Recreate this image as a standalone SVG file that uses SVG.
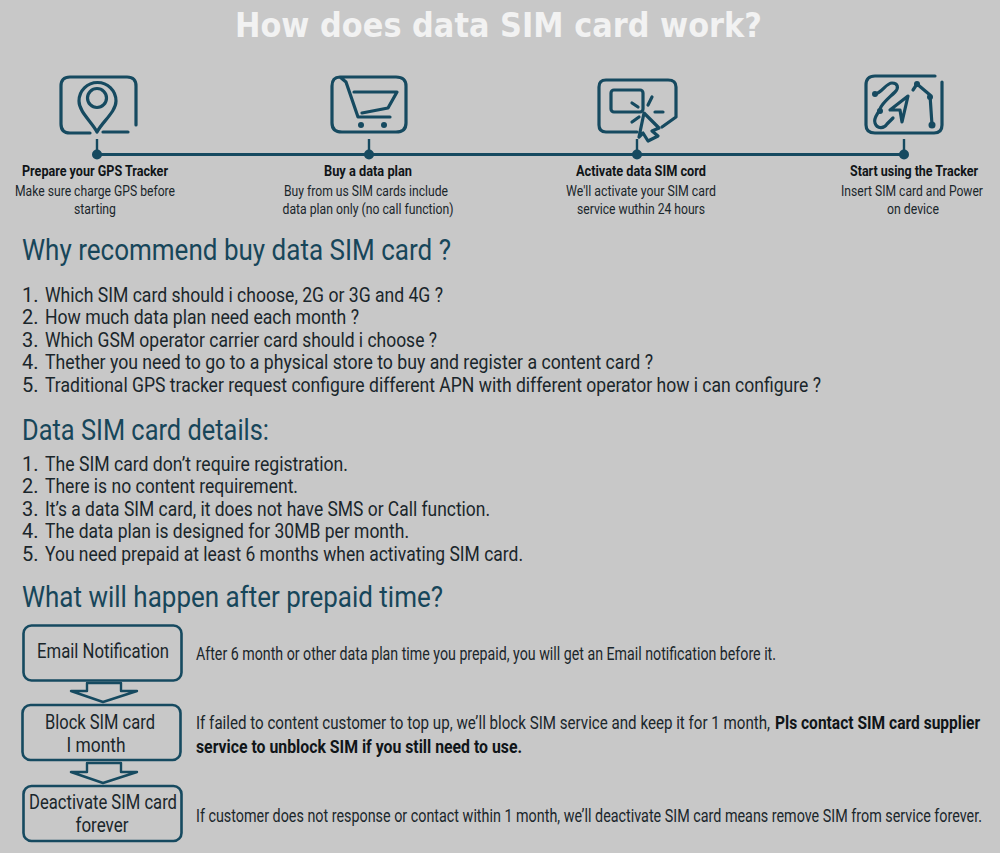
<svg xmlns="http://www.w3.org/2000/svg" width="1000" height="853" viewBox="0 0 1000 853">
<style>
text{font-family:Roboto,"Noto Sans","Liberation Sans",sans-serif;fill:#1a262b;font-size:16px}
.t{font-family:"DejaVu Sans","Liberation Sans",sans-serif;font-weight:700;font-size:33px;fill:#f2f2f2}
.h{font-size:29px;fill:#17465a}
.c{text-anchor:middle;font-size:15.500px}
.b{font-weight:700;fill:#101518}
.l{font-size:20px}
.n{font-size:20px;text-anchor:middle}
.d{font-size:18.500px}
.i,.box,.arr{fill:none;stroke:#164a60;stroke-width:3.200;stroke-linecap:round;stroke-linejoin:round}
.box{stroke-width:2.600}
.arr{stroke-width:2.400;stroke-linecap:butt}
.dot{fill:#164a60}
</style>
<rect width="1000" height="853" fill="#c8c8c8"/>
<text class="t" x="235" y="37" textLength="527" lengthAdjust="spacingAndGlyphs">How does data SIM card work?</text>

<g id="connectors">
<path d="M97 154.500H904" fill="none" stroke="#164a60" stroke-width="3"/>
<path d="M97 139V155M369 139V155M637 139V155M904 139V155" fill="none" stroke="#164a60" stroke-width="2.400"/>
<path class="arr" d="M87 691V683H121V691H137L103 702L71 691Z"/>
<path class="arr" d="M87 772V763H121V772H137L103 783L71 772Z"/>
</g>

<g id="step-1">
<path class="i" d="M90 133H70Q61 133 61 124V86Q61 77 70 77H127Q136 77 136 86V125M128 132H103"/>
<path class="i" d="M97 132C92 122 79 112 79 101A18 18 0 0 1 116 101C116 112 102 122 97 132Z"/>
<circle class="i" cx="97" cy="98" r="9.500"/>
<circle class="dot" cx="97" cy="154.500" r="5"/>
<text class="c b" x="95" y="176" textLength="146" lengthAdjust="spacingAndGlyphs">Prepare your GPS Tracker</text>
<text class="c" x="95" y="196" textLength="160" lengthAdjust="spacingAndGlyphs">Make sure charge GPS before</text>
<text class="c" x="95" y="214" textLength="42" lengthAdjust="spacingAndGlyphs">starting</text>
</g>

<g id="step-2">
<path class="i" d="M340 77H396Q406 77 406 86V123Q406 132 396 132H342Q332 132 332 123V86Q332 77 340 77L346 82L358 117H390"/>
<path class="i" d="M354 92H397L388 108L362 113"/>
<circle class="dot" cx="361" cy="125" r="3"/><circle class="dot" cx="384" cy="125" r="3"/>
<circle class="dot" cx="369" cy="154.500" r="5"/>
<text class="c b" x="368" y="176" textLength="88" lengthAdjust="spacingAndGlyphs">Buy a data plan</text>
<text class="c" x="366" y="196" textLength="164" lengthAdjust="spacingAndGlyphs">Buy from us SIM cards include</text>
<text class="c" x="368" y="214" textLength="171" lengthAdjust="spacingAndGlyphs">data plan only (no call function)</text>
</g>

<g id="step-3">
<path class="i" d="M637 132H606Q599 132 599 125V87Q599 80 606 80H668Q676 80 676 87V117L662 127"/>
<rect class="i" x="611" y="90" width="32" height="22" rx="3"/>
<path class="i" d="M632 103L638 107M652 97L648 105M655 112H663M632 122L639 117M644 113L659 128L652 131L658 136L648 141L643 133L639 137Z"/>
<circle class="dot" cx="637" cy="154.500" r="5"/>
<text class="c b" x="641" y="176" textLength="130" lengthAdjust="spacingAndGlyphs">Activate data SIM cord</text>
<text class="c" x="641" y="196" textLength="150" lengthAdjust="spacingAndGlyphs">We'll activate your SIM card</text>
<text class="c" x="641" y="214" textLength="128" lengthAdjust="spacingAndGlyphs">service wuthin 24 hours</text>
</g>

<g id="step-4">
<path class="i" d="M935 76H875Q866 76 866 85V125Q866 133 875 133H934Q942 133 942 125V82"/>
<path class="i" d="M875 94C882 93 886 83 892 83C898 83 899 88 895 92C889 98 882 103 880 109C878 114 873 118 875 123C877 129 884 129 887 124L893 118"/>
<path class="i" d="M908 96L890 110H900L902 122Z"/>
<path class="i" d="M913 90L917 84L930 95L932 125"/>
<circle class="dot" cx="917" cy="84" r="3"/><circle class="dot" cx="930" cy="97" r="3"/><circle class="dot" cx="932" cy="125" r="3.500"/><circle class="dot" cx="875" cy="94" r="3"/><circle class="dot" cx="880" cy="111" r="3"/>
<circle class="dot" cx="904" cy="154.500" r="5"/>
<text class="c b" transform="translate(914 176) scale(.78 1)" textLength="164" lengthAdjust="spacingAndGlyphs">Start using the Tracker</text>
<text class="c" transform="translate(912 196) scale(.83 1)" textLength="171" lengthAdjust="spacingAndGlyphs">Insert SIM card and Power</text>
<text class="c" x="913" y="214" textLength="52" lengthAdjust="spacingAndGlyphs">on device</text>
</g>

<text class="h" x="22" y="260" textLength="429" lengthAdjust="spacingAndGlyphs">Why recommend buy data SIM card ?</text>
<text class="l" x="22" y="302">1.</text><text class="l" x="45" y="302" textLength="398" lengthAdjust="spacingAndGlyphs">Which SIM card should i choose, 2G or 3G and 4G ?</text>
<text class="l" x="22" y="324">2.</text><text class="l" x="45" y="324" textLength="314" lengthAdjust="spacingAndGlyphs">How much data plan need each month ?</text>
<text class="l" x="22" y="347">3.</text><text class="l" x="45" y="347" textLength="392" lengthAdjust="spacingAndGlyphs">Which GSM operator carrier card should i choose ?</text>
<text class="l" x="22" y="369">4.</text><text class="l" x="45" y="369" textLength="608" lengthAdjust="spacingAndGlyphs">Thether you need to go to a physical store to buy and register a content card ?</text>
<text class="l" x="22" y="392">5.</text><text class="l" x="45" y="392" textLength="776" lengthAdjust="spacingAndGlyphs">Traditional GPS tracker request configure different APN with different operator how i can configure ?</text>

<text class="h" x="22" y="440" textLength="247" lengthAdjust="spacingAndGlyphs">Data SIM card details:</text>
<text class="l" x="22" y="471">1.</text><text class="l" x="45" y="471" textLength="303" lengthAdjust="spacingAndGlyphs">The SIM card don’t require registration.</text>
<text class="l" x="22" y="493">2.</text><text class="l" x="45" y="493" textLength="253" lengthAdjust="spacingAndGlyphs">There is no content requirement.</text>
<text class="l" x="22" y="516">3.</text><text class="l" x="45" y="516" textLength="445" lengthAdjust="spacingAndGlyphs">It’s a data SIM card, it does not have SMS or Call function.</text>
<text class="l" x="22" y="538">4.</text><text class="l" x="45" y="538" textLength="364" lengthAdjust="spacingAndGlyphs">The data plan is designed for 30MB per month.</text>
<text class="l" x="22" y="561">5.</text><text class="l" x="45" y="561" textLength="478" lengthAdjust="spacingAndGlyphs">You need prepaid at least 6 months when activating SIM card.</text>

<text class="h" x="22" y="607" textLength="421" lengthAdjust="spacingAndGlyphs">What will happen after prepaid time?</text>

<g id="email-notification">
<rect class="box" x="23.500" y="625.500" width="158" height="55" rx="8"/>
<text class="n" x="103" y="658" textLength="132" lengthAdjust="spacingAndGlyphs">Email Notification</text>
</g>
<g id="block-sim">
<rect class="box" x="22.500" y="705" width="158" height="55" rx="8"/>
<text class="n" x="100" y="729" textLength="110" lengthAdjust="spacingAndGlyphs">Block SIM card</text>
<text class="n" x="96" y="752" textLength="59" lengthAdjust="spacingAndGlyphs">I month</text>
</g>
<g id="deactivate-sim">
<rect class="box" x="23.500" y="786" width="158" height="55" rx="8"/>
<text class="n" x="103" y="809" textLength="148" lengthAdjust="spacingAndGlyphs">Deactivate SIM card</text>
<text class="n" x="102" y="832" textLength="53" lengthAdjust="spacingAndGlyphs">forever</text>
</g>

<text class="d" x="196" y="660" textLength="580" lengthAdjust="spacingAndGlyphs">After 6 month or other data plan time you prepaid, you will get an Email notification before it.</text>
<text class="d" transform="translate(196 729) scale(.78 1)" textLength="736" lengthAdjust="spacingAndGlyphs">If failed to content customer to top up, we’ll block SIM service and keep it for 1 month,</text>
<text class="d b" transform="translate(775 729) scale(.76 1)" textLength="270" lengthAdjust="spacingAndGlyphs">Pls contact SIM card supplier</text>
<text class="d b" x="196" y="753" textLength="326" lengthAdjust="spacingAndGlyphs">service to unblock SIM if you still need to use.</text>
<text class="d" transform="translate(196 822) scale(.75 1)" textLength="1048" lengthAdjust="spacingAndGlyphs">If customer does not response or contact within 1 month, we’ll deactivate SIM card means remove SIM from service forever.</text>
</svg>
